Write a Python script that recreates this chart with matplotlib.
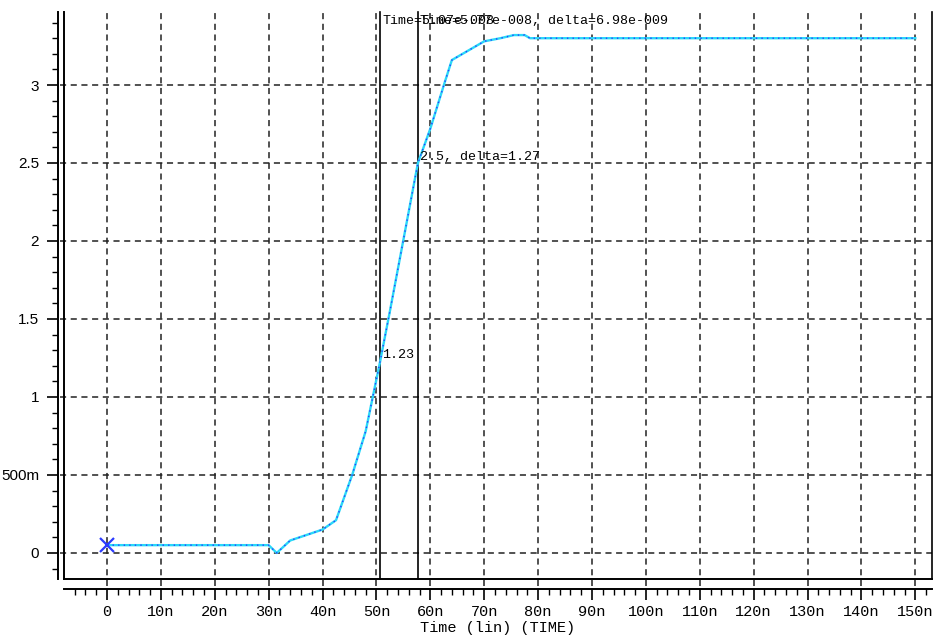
import matplotlib
matplotlib.use("Agg")
import matplotlib.pyplot as plt
from matplotlib.ticker import MultipleLocator
from matplotlib.lines import Line2D

# Waveform samples (time in ns, voltage in V)
time_ns = [0, 30, 31.5, 34, 40, 42.5, 45.5, 48, 50.7, 52.5, 57.7, 60, 62.7,
           64, 67, 70, 73, 75.5, 77.5, 78.5, 150]
volts = [0.05, 0.05, 0.0, 0.08, 0.15, 0.21, 0.5, 0.78, 1.23, 1.55, 2.5, 2.72,
         3.02, 3.16, 3.22, 3.28, 3.30, 3.32, 3.32, 3.30, 3.30]

# Cursors
cursor1_t, cursor1_v = 50.7, 1.23
cursor2_t, cursor2_v = 57.7, 2.5
cursor1_label = "Time=5.07e-008"
cursor2_label = "Time=5.77e-008, delta=6.98e-009"

x_ticks = list(range(0, 151, 10))
y_ticks = [0, 0.5, 1, 1.5, 2, 2.5, 3]
y_tick_labels = ["0", "500m", "1", "1.5", "2", "2.5", "3"]

W, H = 936, 635
fig = plt.figure(figsize=(W / 100, H / 100), dpi=100)
left, right, top, bottom = 64, 932, 12, 579
ax = fig.add_axes([left / W, 1 - bottom / H, (right - left) / W, (bottom - top) / H])

ax.set_xlim(-7.98, 153.1)
ax.set_ylim(-0.167, 3.468)

# Grid (dashed, extending to the detached axis lines)
for xt in x_ticks:
    ax.axvline(xt, ymin=-0.013, ymax=1, color="#222222", lw=1.1,
               ls=(0, (4, 3)), clip_on=False, zorder=1)
for yt in y_ticks:
    ax.axhline(yt, xmin=-0.005, xmax=1, color="#222222", lw=1.1,
               ls=(0, (4, 3)), clip_on=False, zorder=1)

# Curve: cyan trace with blue dots
ax.plot(time_ns, volts, color="#2ad8f8", lw=1.7, zorder=3)
ax.plot(time_ns, volts, color="#2b3bff", lw=1.0, ls=(0, (1, 3)), zorder=4)
ax.plot([time_ns[0]], [volts[0]], marker="x", ms=10, mew=1.6,
        color="#2b3bff", zorder=5)

# Cursor lines
for ct in (cursor1_t, cursor2_t):
    ax.axvline(ct, color="black", lw=1.2, zorder=2, clip_on=False)

mono = "Liberation Mono"
ax.text(cursor1_t + 0.4, 3.41, cursor1_label,
        fontsize=9.6, family=mono, va="center", ha="left", zorder=6)
ax.text(cursor2_t + 0.4, 3.41, cursor2_label,
        fontsize=9.6, family=mono, va="center", ha="left", zorder=6)
ax.text(cursor1_t + 0.4, cursor1_v, f"{cursor1_v:.2f}", fontsize=9.6, family=mono,
        va="bottom", ha="left", zorder=6)
ax.text(cursor2_t + 0.4, cursor2_v, f"{cursor2_v:g}, delta={cursor2_v - cursor1_v:.2f}",
        fontsize=9.6, family=mono, va="bottom", ha="left", zorder=6)

# Axes styling: detached left/bottom axes, box on left/bottom/right
ax.spines["top"].set_visible(False)
ax.spines["right"].set_visible(True)
ax.spines["right"].set_linewidth(1.2)
ax.spines["left"].set_position(("outward", 4))
ax.spines["bottom"].set_position(("outward", 7))
for s in ("left", "bottom"):
    ax.spines[s].set_linewidth(1.4)
for xy in (([0, 0], [0, 1]), ([0, 1], [0, 0])):
    ax.add_line(Line2D(xy[0], xy[1], transform=ax.transAxes, color="black",
                       lw=1.4, clip_on=False))

ax.xaxis.set_minor_locator(MultipleLocator(2))
ax.yaxis.set_minor_locator(MultipleLocator(0.1))
ax.set_xticks(x_ticks)
ax.set_xticklabels(["0" if t == 0 else f"{t}n" for t in x_ticks],
                   family=mono, fontsize=11)
ax.set_yticks(y_ticks)
ax.set_yticklabels(y_tick_labels, family="Liberation Sans", fontsize=11)
ax.tick_params(axis="both", which="major", direction="out", length=8, width=1.2)
ax.tick_params(axis="both", which="minor", direction="out", length=4, width=1.0)
ax.tick_params(axis="x", which="major", pad=4)
ax.tick_params(axis="y", which="major", pad=6)

ax.set_xlabel("Time (lin) (TIME)", family=mono, fontsize=11, labelpad=1)
ax.set_facecolor("white")

fig.savefig("out.png", dpi=100, facecolor="white")
